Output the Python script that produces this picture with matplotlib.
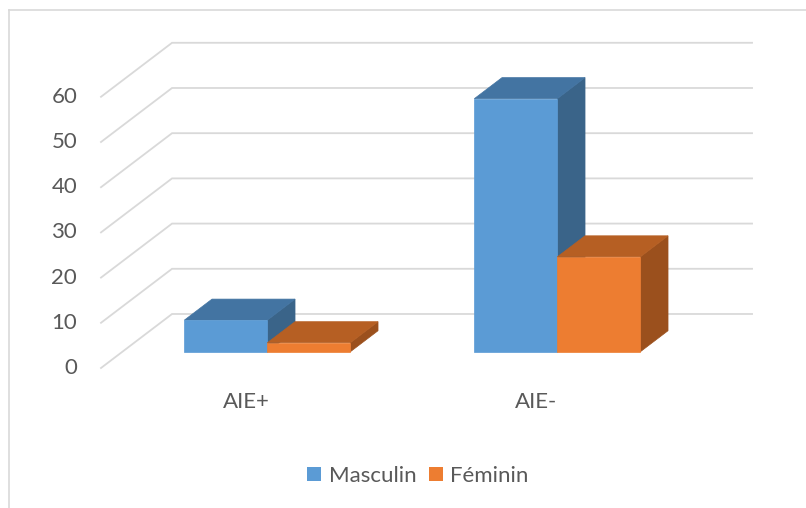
import matplotlib
matplotlib.use("Agg")
import matplotlib.pyplot as plt
from matplotlib.patches import Polygon, Patch

plt.rcParams['font.family'] = ['Lato', 'DejaVu Sans']

categories = ["AIE+", "AIE-"]
series_names = ["Masculin", "Féminin"]
masculin = [7, 56]
feminin = [2, 21]
y_ticks = [0, 10, 20, 30, 40, 50, 60]

front_colors = ["#5B9BD5", "#ED7D31"]
top_colors = ["#4374A2", "#B65F23"]
side_colors = ["#3A6489", "#9B501D"]
grid_color = "#D9D9D9"
text_color = "#595959"
FS = 16

# oblique projection: depth d in [0, 1] shifts right and up
DX = 0.245   # category units per full depth
DY = 11.95   # value units per full depth


def proj(x, v, d):
    return (x + d * DX, v + d * DY)


W, H = 806, 508
fig = plt.figure(figsize=(W / 100, H / 100), dpi=100)
ax = fig.add_axes([0, 0, 1, 1])
ax.set_xlim(-246 / 290, (W - 246) / 290)
ax.set_ylim((368 - H) / 4.52, 368 / 4.52)
ax.axis("off")

x_left, x_right = -0.5, 1.5

# gridlines: diagonal on the left wall, horizontal on the back wall
for v in y_ticks:
    p0 = proj(x_left, v, 0)
    p1 = proj(x_left, v, 1)
    p2 = proj(x_right, v, 1)
    ax.plot([p0[0], p1[0], p2[0]], [p0[1], p1[1], p2[1]],
            color=grid_color, lw=1.3, zorder=1, solid_joinstyle="miter")

# y tick labels at the front edge of the left wall
for v in y_ticks:
    ax.text(-0.582, v, str(v), ha="right", va="center",
            fontsize=FS, color=text_color)

# category labels
for i, c in enumerate(categories):
    ax.text(i, -7.6, c, ha="center", va="center", fontsize=FS, color=text_color)

bar_w = 83 / 290
d0, d1 = 0.30, 0.69
series = [masculin, feminin]
for i in range(len(categories)):
    for s, vals in enumerate(series):
        v = vals[i]
        xl = i - bar_w + s * bar_w
        xr = xl + bar_w
        front = [proj(xl, 0, d0), proj(xr, 0, d0), proj(xr, v, d0), proj(xl, v, d0)]
        top = [proj(xl, v, d0), proj(xr, v, d0), proj(xr, v, d1), proj(xl, v, d1)]
        side = [proj(xr, 0, d0), proj(xr, 0, d1), proj(xr, v, d1), proj(xr, v, d0)]
        z = 3 + i * 3 + s
        for pts, col in ((side, side_colors[s]), (top, top_colors[s]), (front, front_colors[s])):
            ax.add_patch(Polygon(pts, closed=True, facecolor=col,
                                 edgecolor=col, lw=0.5, zorder=z))

handles = [Patch(facecolor=front_colors[k], edgecolor="none") for k in range(2)]
fig.legend(handles, series_names, loc="center", bbox_to_anchor=(418 / W, 1 - 476 / H),
           ncol=2, frameon=False, fontsize=FS, labelcolor=text_color,
           handlelength=0.62, handleheight=0.62, handletextpad=0.35,
           columnspacing=0.55)

# chart border (top and left edges)
fig.add_artist(plt.Line2D([8.5 / W, 1], [1 - 9.5 / H, 1 - 9.5 / H],
                          transform=fig.transFigure, color=grid_color, lw=1.2))
fig.add_artist(plt.Line2D([8.5 / W, 8.5 / W], [0, 1 - 9.5 / H],
                          transform=fig.transFigure, color=grid_color, lw=1.2))

fig.savefig("out.png", dpi=100, facecolor="white")
